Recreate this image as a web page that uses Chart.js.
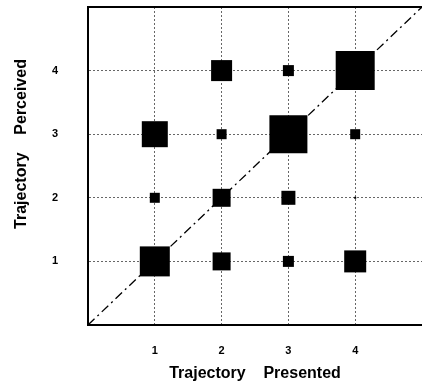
<!DOCTYPE html>
<html>
<head>
<meta charset="utf-8">
<script src="https://cdn.jsdelivr.net/npm/chart.js@4"></script>
<style>
  html, body { margin: 0; padding: 0; background: #fff; }
  #wrap { width: 422px; height: 387px; }
</style>
</head>
<body>
<div id="wrap"><canvas id="trajChart" width="422" height="387"></canvas></div>
<script>
// trajectory presented (x) vs perceived (y), square side ~ frequency
const presented = [1, 2, 3, 4, 1, 2, 3, 4, 1, 2, 3, 4, 2, 3, 4];
const perceived = [1, 1, 1, 1, 2, 2, 2, 2, 3, 3, 3, 3, 4, 4, 4];
const squareSize = [30, 18, 11, 22, 10, 18, 14, 2, 26, 10, 38, 10, 21, 11, 39];
const tickValues = [1, 2, 3, 4];
const diagonal = [{ x: 0, y: 0 }, { x: 5, y: 5 }];
const yTitle = 'Trajectory    Perceived';

const points = presented.map((p, i) => ({ x: p, y: perceived[i] }));
const radii = squareSize.map(s => s / Math.SQRT2);

const font = { family: '"Liberation Sans", Arial, sans-serif', weight: 'bold' };

// top frame line + y title (sits a bit above the plot centre in the original)
const extras = {
    id: 'extras',
    afterDraw(chart) {
        const { ctx, chartArea } = chart;
        ctx.save();
        ctx.strokeStyle = '#000';
        ctx.lineWidth = 2;
        ctx.beginPath();
        ctx.moveTo(chartArea.left, chartArea.top);
        ctx.lineTo(chartArea.right, chartArea.top);
        ctx.stroke();

        ctx.translate(22, 144);
        ctx.rotate(-Math.PI / 2);
        ctx.fillStyle = '#000';
        ctx.font = 'bold 16px "Liberation Sans", Arial, sans-serif';
        ctx.textAlign = 'center';
        ctx.textBaseline = 'middle';
        ctx.fillText(yTitle, 0, 0);
        ctx.restore();
    }
};

// no extra label padding, the plot runs to the right edge
function noPad(s) {
    s.paddingTop = 0;
    s.paddingBottom = 0;
    s.paddingLeft = 0;
    s.paddingRight = 0;
}

new Chart(document.getElementById('trajChart').getContext('2d'), {
    type: 'scatter',
    data: {
        datasets: [{
            data: points,
            pointStyle: 'rect',
            pointRadius: radii,
            pointHoverRadius: radii,
            backgroundColor: '#000',
            borderWidth: 0
        }, {
            type: 'line',
            data: diagonal,
            borderColor: '#000',
            borderWidth: 1.3,
            borderDash: [9, 4, 2, 4],
            pointRadius: 0,
            fill: false
        }]
    },
    options: {
        responsive: false,
        animation: false,
        layout: { autoPadding: false, padding: { top: 7, right: 0, left: 0, bottom: 0 } },
        plugins: { legend: { display: false }, tooltip: { enabled: false } },
        scales: {
            x: {
                type: 'linear',
                min: 0,
                max: 5,
                afterFit: s => { s.height = 62; noPad(s); },
                afterBuildTicks: s => { s.ticks = tickValues.map(v => ({ value: v })); },
                grid: {
                    color: '#666',
                    lineWidth: 1,
                    drawTicks: false
                },
                border: { display: true, color: '#000', width: 2, dash: [2, 2] },
                ticks: {
                    color: '#000',
                    font: { ...font, size: 11 },
                    padding: 19
                },
                title: {
                    display: true,
                    text: 'Trajectory    Presented',
                    color: '#000',
                    font: { ...font, size: 16 },
                    padding: { top: 4 }
                }
            },
            y: {
                type: 'linear',
                min: 0,
                max: 5,
                afterFit: s => { s.width = 88; noPad(s); },
                afterBuildTicks: s => { s.ticks = tickValues.map(v => ({ value: v })); },
                grid: {
                    color: '#666',
                    lineWidth: 1,
                    drawTicks: false
                },
                border: { display: true, color: '#000', width: 2, dash: [2, 2] },
                ticks: {
                    color: '#000',
                    font: { ...font, size: 11 },
                    padding: 30
                },
                title: { display: false }
            }
        }
    },
    plugins: [extras]
});
</script>
</body>
</html>
